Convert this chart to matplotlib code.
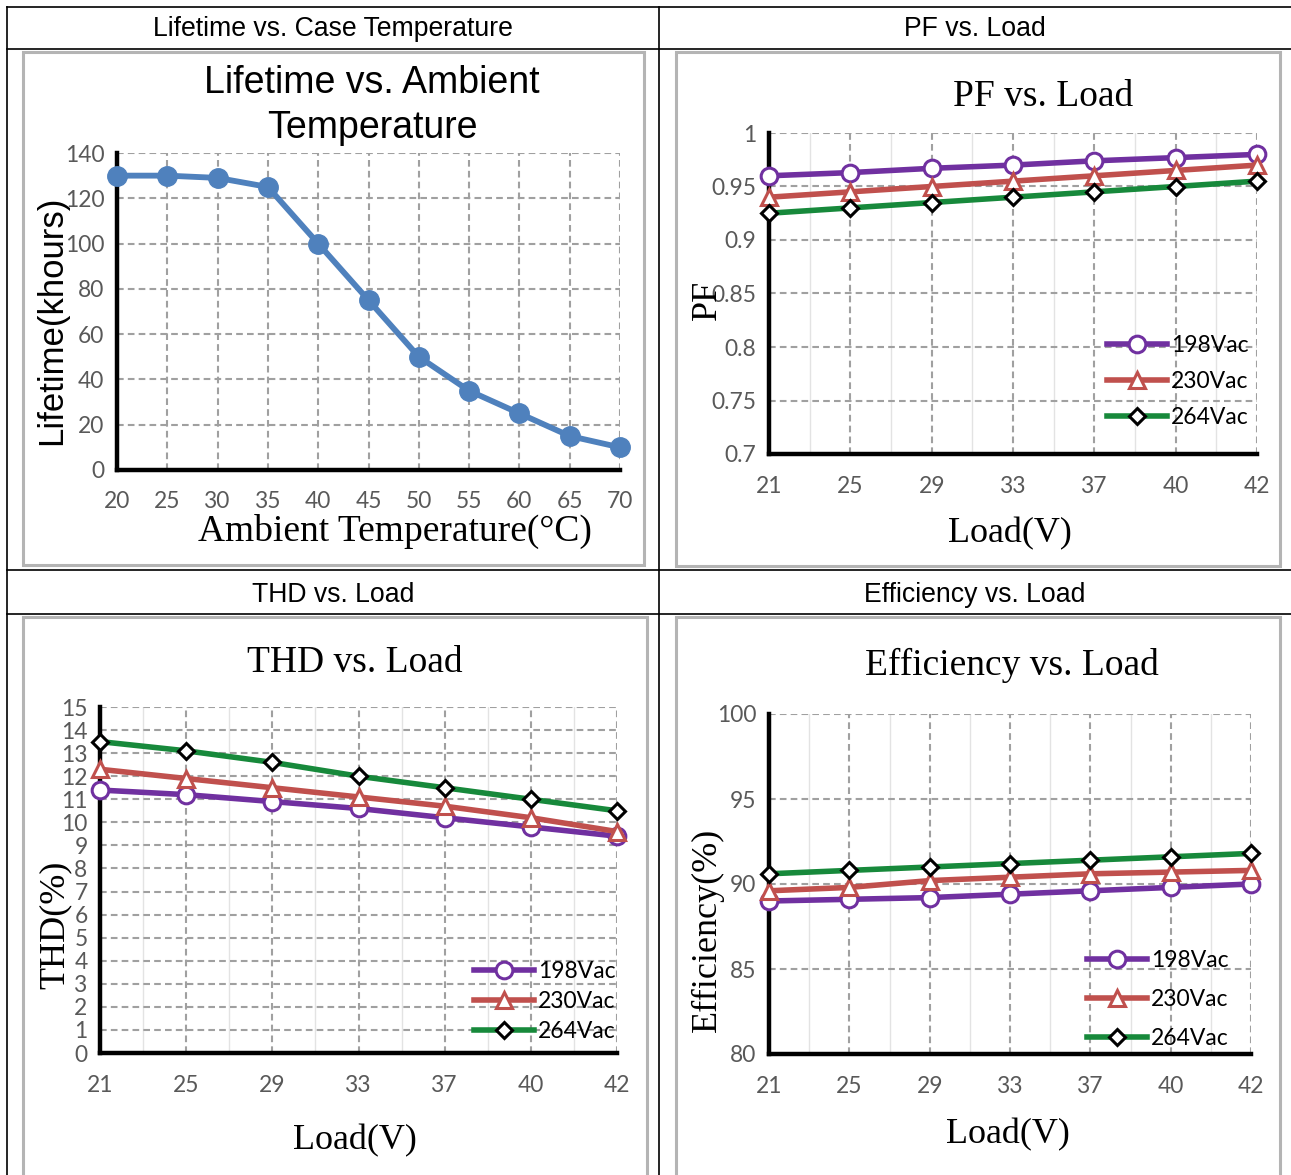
import numpy as np
import matplotlib
matplotlib.use('Agg')
from matplotlib import pyplot as plt
from matplotlib.lines import Line2D
from matplotlib.patches import Rectangle
from matplotlib.ticker import MultipleLocator

# data
temps = [20, 25, 30, 35, 40, 45, 50, 55, 60, 65, 70]
lifetime = [130, 130, 129, 125, 100, 75, 50, 35, 25, 15, 10]

loads = ['21', '25', '29', '33', '37', '40', '42']
series_names = ['198Vac', '230Vac', '264Vac']

pf_198 = [0.960, 0.963, 0.967, 0.970, 0.974, 0.977, 0.980]
pf_230 = [0.940, 0.945, 0.950, 0.955, 0.960, 0.965, 0.970]
pf_264 = [0.925, 0.930, 0.935, 0.940, 0.945, 0.950, 0.955]

thd_198 = [11.4, 11.2, 10.9, 10.6, 10.2, 9.8, 9.4]
thd_230 = [12.3, 11.9, 11.5, 11.1, 10.7, 10.2, 9.6]
thd_264 = [13.5, 13.1, 12.6, 12.0, 11.5, 11.0, 10.5]

eff_198 = [89.0, 89.1, 89.2, 89.4, 89.6, 89.8, 90.0]
eff_230 = [89.6, 89.8, 90.2, 90.4, 90.6, 90.7, 90.8]
eff_264 = [90.6, 90.8, 91.0, 91.2, 91.4, 91.6, 91.8]

W, H = 1291, 1175
SANS = 'Liberation Sans'
SERIF = 'Liberation Serif'
TICKF = 'Lato'
TICKC = '#595959'
GRIDC = '#a0a0a0'
TICKSIZE = 16.4

fig = plt.figure(figsize=(W / 100, H / 100), dpi=100)


def fx(x):
    return x / W


def fy(y):
    return 1 - y / H


def px_axes(x0, y0, x1, y1):
    return fig.add_axes([fx(x0), fy(y1), (x1 - x0) / W, (y1 - y0) / H])


def ftext(x, y, s, size, family, **kw):
    fig.text(fx(x), fy(y), s, fontsize=size, family=family,
             ha='center', va='center', **kw)


# table frame
for y in [7, 49, 570, 614]:
    fig.add_artist(Line2D([fx(7), 1], [fy(y), fy(y)], color='black', lw=1.2))
for x in [7, 659]:
    fig.add_artist(Line2D([fx(x), fx(x)], [fy(7), 0], color='black', lw=1.2))

# gray chart boxes
for (x0, y0, x1, y1) in [(23, 52, 644, 565), (676, 52, 1280, 566),
                         (23, 617, 647, 1180), (676, 617, 1280, 1180)]:
    fig.add_artist(Rectangle((fx(x0), fy(y1)), (x1 - x0) / W, (y1 - y0) / H,
                             transform=fig.transFigure, fill=False,
                             edgecolor='#b4b4b4', lw=2.2))

# header cells
ftext(333, 29.5, 'Lifetime vs. Case Temperature', 19.2, SANS)
ftext(975, 29.5, 'PF vs. Load', 19.2, SANS)
ftext(333, 594.5, 'THD vs. Load', 19.2, SANS)
ftext(975, 594.5, 'Efficiency vs. Load', 19.2, SANS)


def style(ax, xpad, ypad):
    for s in ['top', 'right']:
        ax.spines[s].set_visible(False)
    for s in ['left', 'bottom']:
        ax.spines[s].set_linewidth(3.2)
        ax.spines[s].set_color('black')
        ax.spines[s].set_zorder(4)
    ax.tick_params(which='both', length=0, labelsize=TICKSIZE, labelcolor=TICKC)
    ax.tick_params(axis='x', pad=xpad)
    ax.tick_params(axis='y', pad=ypad)
    for lab in ax.get_xticklabels() + ax.get_yticklabels():
        lab.set_family(TICKF)
    ax.grid(True, which='major', color=GRIDC, linestyle=(0, (3.2, 2)), lw=1.5)
    ax.set_axisbelow(True)


# ---- Lifetime vs. Ambient Temperature
ax1 = px_axes(117, 153, 620, 470)
ax1.plot(temps, lifetime, color='#4f81bd', lw=4.2, marker='o', ms=14,
         clip_on=False, zorder=5)
ax1.set_xlim(20, 70)
ax1.set_ylim(0, 140)
ax1.xaxis.set_major_locator(MultipleLocator(5))
ax1.yaxis.set_major_locator(MultipleLocator(20))
style(ax1, 15, 9)
ftext(372, 83, 'Lifetime vs. Ambient', 27, SANS)
ftext(372, 128, 'Temperature', 27, SANS)
ftext(395, 531, 'Ambient Temperature(°C)', 27, SERIF)
ftext(52, 320, 'Lifetime(khours)', 25, SANS, rotation=90)

colors = ['#7030a0', '#c0504d', '#17893b']
marks = [dict(marker='o', ms=12, mec='#7030a0'),
         dict(marker='^', ms=12, mec='#c0504d'),
         dict(marker='D', ms=8.5, mec='black')]


def load_chart(rect, data, ylim, ystep, title, tpos, ylabel, ypos, xlpos,
               legpos, lspace, yfmt=None):
    ax = px_axes(*rect)
    xs = np.arange(len(loads))
    for vals, name, c, m in zip(data, series_names, colors, marks):
        ax.plot(xs, vals, color=c, lw=4, mfc='white', mew=2.2, label=name,
                clip_on=False, zorder=5, **m)
    ax.set_xlim(0, len(loads) - 1)
    ax.set_ylim(*ylim)
    ax.set_xticks(xs)
    ax.set_xticklabels(loads)
    ax.set_xticks(xs[:-1] + 0.5, minor=True)
    ax.yaxis.set_major_locator(MultipleLocator(ystep))
    if yfmt is not None:
        ax.yaxis.set_major_formatter(yfmt)
    style(ax, 16, 9)
    ax.grid(True, which='minor', axis='x', color='#e3e3e3', linestyle='-', lw=1)
    ax.legend(loc='upper left', bbox_to_anchor=(fx(legpos[0]), fy(legpos[1])),
              bbox_transform=fig.transFigure, frameon=False, borderpad=0,
              borderaxespad=0, handlelength=2.6, handletextpad=0.2,
              labelspacing=lspace, prop={'family': TICKF, 'size': 16.5})
    ftext(tpos[0], tpos[1], title, 27, SERIF)
    ftext(xlpos[0], xlpos[1], 'Load(V)', 26, SERIF)
    ftext(ypos[0], ypos[1], ylabel, 26, SERIF, rotation=90)
    return ax


def pf_fmt(v, pos):
    return ('%.2f' % v).rstrip('0').rstrip('.')


load_chart((769, 133, 1257, 454), [pf_198, pf_230, pf_264], (0.7, 1.0), 0.05,
           'PF vs. Load', (1043, 97), 'PF', (707, 300), (1010, 534),
           (1107, 335), 0.66, yfmt=plt.FuncFormatter(pf_fmt))
load_chart((100, 707, 617, 1053), [thd_198, thd_230, thd_264], (0, 15), 1,
           'THD vs. Load', (355, 663), 'THD(%)', (55, 925), (355, 1141),
           (474, 961), 0.40)
load_chart((769, 714, 1251, 1054), [eff_198, eff_230, eff_264], (80, 100), 5,
           'Efficiency vs. Load', (1012, 665), 'Efficiency(%)', (707, 930),
           (1008, 1135), (1087, 950), 0.79)

fig.savefig('out.png', dpi=100)
